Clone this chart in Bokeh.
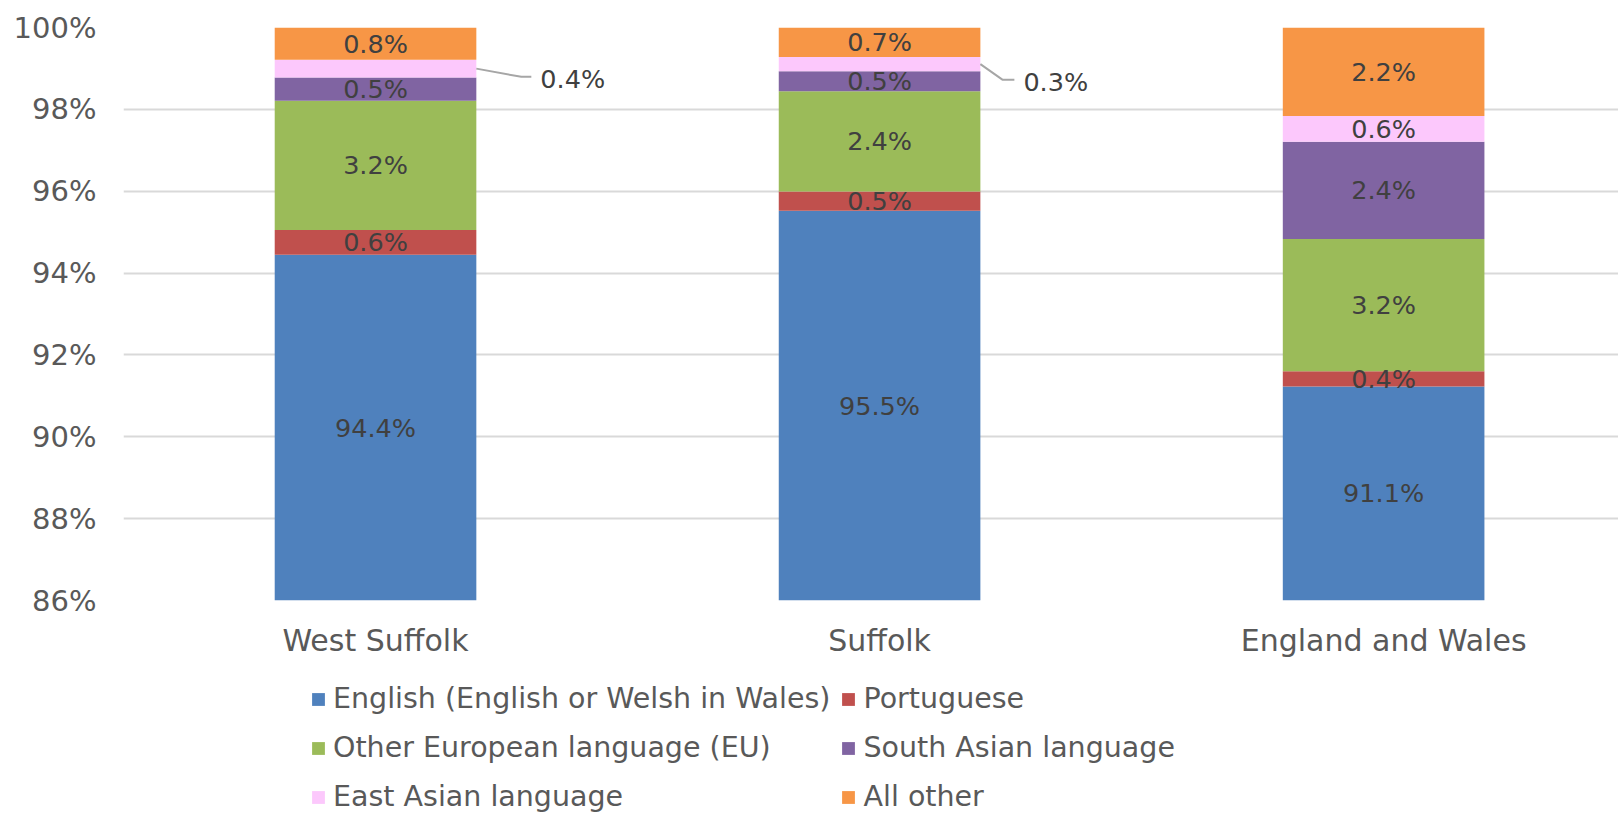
from bokeh.plotting import figure
from bokeh.layouts import column
from bokeh.models import ColumnDataSource, Range1d, FixedTicker, PrintfTickFormatter, Legend, LegendItem
from bokeh.core.properties import value
from bokeh.embed import file_html
from bokeh.resources import INLINE

# ---- data ----
areas = ["West Suffolk", "Suffolk", "England and Wales"]
series = ["English (English or Welsh in Wales)", "Portuguese", "Other European language (EU)",
          "South Asian language", "East Asian language", "All other"]
english = [94.45, 95.52, 91.23]
portuguese = [0.60, 0.47, 0.37]
other_eu = [3.16, 2.45, 3.23]
south_asian = [0.57, 0.49, 2.38]
east_asian = [0.43, 0.35, 0.63]
all_other = [0.79, 0.72, 2.16]
# data labels as printed on the chart
lab_english = ["94.4%", "95.5%", "91.1%"]
lab_portuguese = ["0.6%", "0.5%", "0.4%"]
lab_other_eu = ["3.2%", "2.4%", "3.2%"]
lab_south_asian = ["0.5%", "0.5%", "2.4%"]
lab_east_asian = ["0.4%", "0.3%", "0.6%"]
lab_all_other = ["0.8%", "0.7%", "2.2%"]
y_ticks = [86, 88, 90, 92, 94, 96, 98, 100]

colors = ["#4F81BD", "#C0504D", "#9BBB59", "#8064A2", "#FCC8FC", "#F79646"]
keys = ["english", "portuguese", "other_eu", "south_asian", "east_asian", "all_other"]
vals = [english, portuguese, other_eu, south_asian, east_asian, all_other]
labs = [lab_english, lab_portuguese, lab_other_eu, lab_south_asian, lab_east_asian, lab_all_other]

FONT = "DejaVu Sans"
BAR_W = 0.4
Y0, Y1 = 86, 100
xs = list(range(len(areas)))

src = ColumnDataSource(dict(x=xs, **{k: v for k, v in zip(keys, vals)}))

p = figure(width=1618, height=660, output_backend="svg", toolbar_location=None,
           x_range=Range1d(-0.5, 2.466), y_range=Range1d(Y0, Y1),
           min_border_left=123, min_border_right=0, min_border_top=27, min_border_bottom=60)
p.outline_line_color = None
p.background_fill_color = "white"

rends = p.vbar_stack(keys, x="x", width=BAR_W, color=colors, line_color=None, source=src)

# inside data labels (East Asian labels for the two Suffolk bars are shown as callouts)
tx, ty, tt = [], [], []
callouts = []
for i in xs:
    base = 0.0
    for si, (v, l) in enumerate(zip(vals, labs)):
        top = base + v[i]
        mid = (max(base, Y0) + top) / 2
        if si == 4 and i < 2:
            callouts.append((i, mid, l[i]))
        else:
            tx.append(i); ty.append(mid); tt.append(l[i])
        base = top
lsrc = ColumnDataSource(dict(x=tx, y=ty, t=tt))
p.text(x="x", y="y", text="t", source=lsrc, text_align="center", text_baseline="middle",
       text_font=value(FONT), text_font_size="25.5px", text_color="#404040")

# callouts
px_per_unit = 1495 / 2.966
for (i, mid, l) in callouts:
    x0 = i + BAR_W / 2
    if i == 0:
        xa, ya = x0 + 45 / px_per_unit, mid - 0.2
        xb = x0 + 55 / px_per_unit
        xt = x0 + 64 / px_per_unit
    else:
        xa, ya = x0 + 22 / px_per_unit, mid - 0.38
        xb = x0 + 34 / px_per_unit
        xt = x0 + 43 / px_per_unit
    p.line([x0, xa, xb], [mid, ya, ya], line_color="#A6A6A6", line_width=2)
    p.text(x=[xt], y=[ya - 0.05], text=[l], text_align="left", text_baseline="middle",
           text_font=value(FONT), text_font_size="25.5px", text_color="#404040")

# axes
p.yaxis.ticker = FixedTicker(ticks=y_ticks)
p.yaxis.formatter = PrintfTickFormatter(format="%d%%")
p.xaxis.ticker = FixedTicker(ticks=xs)
p.xaxis.major_label_overrides = {i: a for i, a in zip(xs, areas)}
for ax in (p.xaxis, p.yaxis):
    ax.axis_line_color = None
    ax.major_tick_line_color = None
    ax.minor_tick_line_color = None
    ax.major_tick_out = 0
    ax.major_tick_in = 0
    ax.major_label_text_font = FONT
    ax.major_label_text_color = "#595959"
p.xaxis.major_label_text_font_size = "30px"
p.yaxis.major_label_text_font_size = "29px"
p.yaxis.major_label_standoff = 27
p.xaxis.major_label_standoff = 22
p.xgrid.grid_line_color = None
p.ygrid.grid_line_color = "#D9D9D9"
p.ygrid.grid_line_width = 2

# legend strip under the chart: same stacked bars, scrolled out of its view, so only the legend shows
lg = figure(width=1618, height=153, output_backend="svg", toolbar_location=None,
            x_range=Range1d(-0.5, 2.466), y_range=Range1d(200, 201),
            x_axis_location=None, y_axis_location=None,
            min_border_left=0, min_border_right=0, min_border_top=0, min_border_bottom=0)
lg.outline_line_color = None
lg.grid.visible = False
lrends = lg.vbar_stack(keys, x="x", width=BAR_W, color=colors, line_color=None, source=src)
order = [0, 2, 4, 1, 3, 5]   # fills column by column -> reads row by row
items = [LegendItem(label=series[k], renderers=[lrends[k]]) for k in order]
legend = Legend(items=items, ncols=2, location=(187, -3),
                label_text_font=FONT, label_text_font_size="28.5px", label_text_color="#595959",
                glyph_width=16, glyph_height=16, label_standoff=7, spacing=10, label_height=39,
                padding=0, margin=0, border_line_color=None, background_fill_alpha=0)
lg.add_layout(legend, "center")

layout = column(p, lg, spacing=0)
open("out.html", "w").write(file_html(layout, INLINE))
